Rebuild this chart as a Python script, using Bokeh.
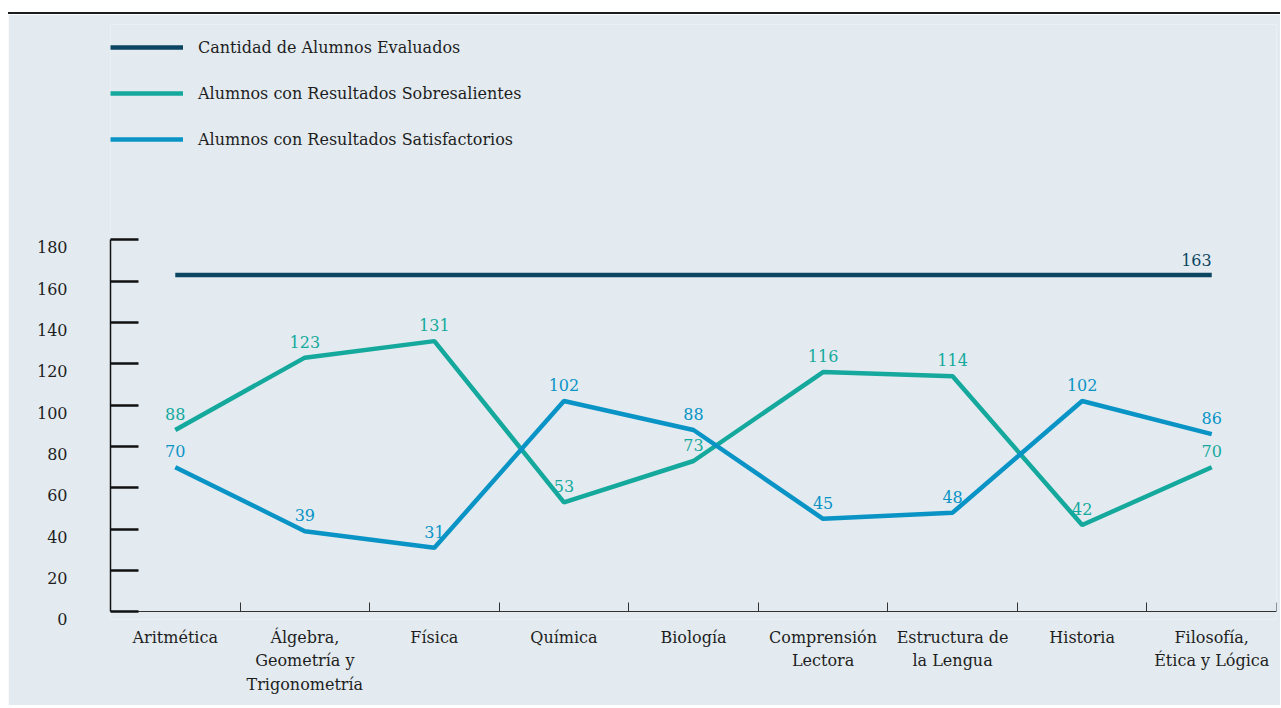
from bokeh.plotting import figure
from bokeh.models import Range1d, FixedTicker, Legend, LegendItem, ColumnDataSource, LinearAxis
from bokeh.core.properties import value
from bokeh.embed import file_html
from bokeh.resources import INLINE

# ---- data ----
categories = ["Aritmética", "Álgebra,\nGeometría y\nTrigonometría", "Física", "Química",
              "Biología", "Comprensión\nLectora", "Estructura de\nla Lengua", "Historia",
              "Filosofía,\nÉtica y Lógica"]
evaluados = [163, 163, 163, 163, 163, 163, 163, 163, 163]
sobresalientes = [88, 123, 131, 53, 73, 116, 114, 42, 70]
satisfactorios = [70, 39, 31, 102, 88, 45, 48, 102, 86]
y_ticks = [0, 20, 40, 60, 80, 100, 120, 140, 160, 180]
series_names = ["Cantidad de Alumnos Evaluados",
                "Alumnos con Resultados Sobresalientes",
                "Alumnos con Resultados Satisfactorios"]

BG = "#e3ebf0"
NAVY = "#0c4562"
TEAL = "#14a99c"
BLUE = "#0a94c6"
TXT = "#1e1e1e"
FONT_NAME = "DejaVu Serif"
FONT = value(FONT_NAME)

Y_START = -3.7
Y_END = 284.2
LABEL_SHIFT = 3.6  # y tick labels sit slightly below their tick marks

xs = [i + 0.5 for i in range(len(categories))]
bounds_x = [i + 1 for i in range(len(categories))]

p = figure(width=1272, height=693, x_range=Range1d(0, len(categories)),
           y_range=Range1d(Y_START, Y_END),
           output_backend="svg", toolbar_location=None,
           min_border_left=102, min_border_right=4, min_border_top=10, min_border_bottom=88,
           background_fill_color=BG, border_fill_color=BG, outline_line_color=None)
p.styles = {"border-top": "2px solid #1c1c1c", "margin-top": "12px", "margin-left": "8px"}
p.xgrid.visible = False
p.ygrid.visible = False

src_ev = ColumnDataSource(dict(x=xs, y=evaluados))
src_so = ColumnDataSource(dict(x=xs, y=sobresalientes, t=[str(v) for v in sobresalientes]))
src_sa = ColumnDataSource(dict(x=xs, y=satisfactorios, t=[str(v) for v in satisfactorios]))
src_ev_lab = ColumnDataSource(dict(x=xs[-1:], y=evaluados[-1:], t=[str(evaluados[-1])]))

r_ev = p.line("x", "y", source=src_ev, line_color=NAVY, line_width=4.5)
r_so = p.line("x", "y", source=src_so, line_color=TEAL, line_width=4.5)
r_sa = p.line("x", "y", source=src_sa, line_color=BLUE, line_width=4.5)

p.text("x", "y", text="t", source=src_so, text_align="center", text_baseline="middle",
       y_offset=-16, text_font=FONT, text_font_size="16px", text_color=TEAL)
p.text("x", "y", text="t", source=src_sa, text_align="center", text_baseline="middle",
       y_offset=-16, text_font=FONT, text_font_size="16px", text_color=BLUE)
p.text("x", "y", text="t", source=src_ev_lab, text_align="right", text_baseline="middle",
       y_offset=-15, text_font=FONT, text_font_size="16px", text_color=NAVY)

legend = Legend(items=[LegendItem(label=series_names[0], renderers=[r_ev]),
                       LegendItem(label=series_names[1], renderers=[r_so]),
                       LegendItem(label=series_names[2], renderers=[r_sa])],
                location=(0, 470), orientation="vertical",
                glyph_width=73, glyph_height=20, label_height=20, spacing=26,
                label_standoff=15, padding=0, margin=0,
                border_line_color=None, background_fill_alpha=0,
                label_text_font=FONT_NAME, label_text_font_size="16px", label_text_color=TXT)
p.add_layout(legend, "center")

# y axis: line and tick marks
ya = p.yaxis[0]
ya.ticker = FixedTicker(ticks=y_ticks, minor_ticks=[])
ya.bounds = (0, 180)
ya.axis_line_color = "#111111"
ya.axis_line_width = 1.5
ya.major_tick_in = 28
ya.major_tick_out = 0
ya.major_tick_line_width = 2.5
ya.major_tick_line_color = "#111111"
ya.minor_tick_line_color = None
ya.major_label_standoff = 0
ya.major_label_overrides = {t: "" for t in y_ticks}

# y axis: tick labels (drawn slightly below the marks)
p.extra_y_ranges = {"labels": Range1d(Y_START + LABEL_SHIFT, Y_END + LABEL_SHIFT)}
ya2 = LinearAxis(y_range_name="labels", ticker=FixedTicker(ticks=y_ticks, minor_ticks=[]))
ya2.axis_line_color = None
ya2.major_tick_line_color = None
ya2.minor_tick_line_color = None
ya2.major_tick_in = 0
ya2.major_tick_out = 0
ya2.major_label_standoff = 43
ya2.major_label_text_font = FONT_NAME
ya2.major_label_text_font_size = "16px"
ya2.major_label_text_color = TXT
p.add_layout(ya2, "left")

# x axis line and boundary ticks (sits at y = 0)
xa = p.xaxis[0]
xa.fixed_location = 0
xa.ticker = FixedTicker(ticks=xs, minor_ticks=bounds_x)
xa.major_label_overrides = {x: "" for x in xs}
xa.major_label_text_font_size = "0px"
xa.major_label_standoff = 0
xa.axis_line_color = "#333333"
xa.axis_line_width = 1
xa.major_tick_in = 0
xa.major_tick_out = 0
xa.minor_tick_in = 9
xa.minor_tick_out = 0
xa.minor_tick_line_color = "#333333"
xa.minor_tick_line_width = 1

# x axis category labels
xa2 = LinearAxis(ticker=FixedTicker(ticks=xs, minor_ticks=[]))
xa2.major_label_overrides = {x: c for x, c in zip(xs, categories)}
xa2.axis_line_color = None
xa2.major_tick_line_color = None
xa2.minor_tick_line_color = None
xa2.major_tick_in = 0
xa2.major_tick_out = 0
xa2.major_label_standoff = 8
xa2.major_label_text_font = FONT_NAME
xa2.major_label_text_font_size = "16px"
xa2.major_label_text_color = TXT
xa2.major_label_text_line_height = 1.24
p.add_layout(xa2, "below")

open("out.html", "w").write(file_html(p, INLINE))
